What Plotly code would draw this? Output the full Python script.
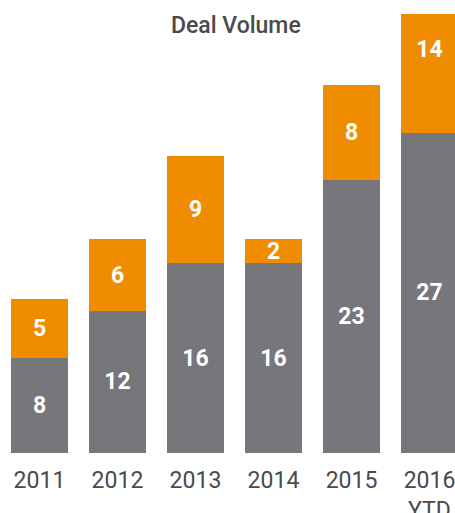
import plotly.graph_objects as go

categories = ["2011", "2012", "2013", "2014", "2015", "2016<br>YTD"]
base_values = [8, 12, 16, 16, 23, 27]
top_values = [5, 6, 9, 2, 8, 14]

GRAY = "#77767a"
ORANGE = "#f08c00"
TXT = "#4a4a4a"

W, H = 455, 513
MT, MB = 14, 60

fig = go.Figure()
for vals, col in [(base_values, GRAY), (top_values, ORANGE)]:
    fig.add_trace(go.Bar(
        x=categories, y=vals, marker=dict(color=col, line=dict(width=0)),
        text=vals, texttemplate="%{text}", textposition="inside",
        insidetextanchor="middle", constraintext="none", textangle=0,
        textfont=dict(color="white", size=23, family="Roboto", weight="bold"),
        width=0.73, cliponaxis=True, hoverinfo="skip",
    ))

fig.update_layout(
    barmode="stack",
    width=W, height=H,
    margin=dict(l=0, r=0, t=MT, b=MB, autoexpand=False),
    paper_bgcolor="white", plot_bgcolor="white",
    showlegend=False,
    annotations=[dict(text="Deal Volume", x=236 / W, y=(H - MB - 26) / (H - MB - MT),
                      xref="paper", yref="paper", xanchor="center", yanchor="middle",
                      showarrow=False,
                      font=dict(size=23, color=TXT, family="Roboto", weight=500))],
)
fig.update_xaxes(range=[-0.506, 5.327], showgrid=False, zeroline=False, showline=False,
                 automargin=False,
                 ticks="outside", ticklen=6, tickcolor="rgba(0,0,0,0)",
                 tickfont=dict(size=23, color=TXT, family="Roboto"))
fig.update_yaxes(range=[0, 37.0], showgrid=False, zeroline=False, showline=False,
                 automargin=False, showticklabels=False)

fig.write_html("out.html", config={"displayModeBar": False, "staticPlot": True},
               post_script="document.body.style.margin='0';document.body.style.overflow='hidden';")
